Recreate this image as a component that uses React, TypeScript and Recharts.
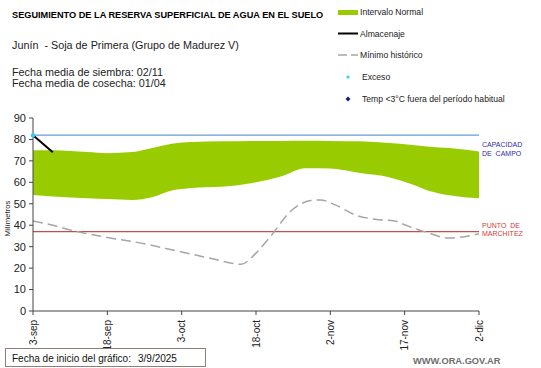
import React from "react";
import {
  ComposedChart,
  Area,
  Line,
  Scatter,
  XAxis,
  YAxis,
  ReferenceLine,
} from "recharts";

// ---- data (day index from 3-sep) ----
const tickDays = [0, 15, 30, 45, 60, 75, 90];
const tickLabels = ["3-sep", "18-sep", "3-oct", "18-oct", "2-nov", "17-nov", "2-dic"];
const yTicks = [0, 10, 20, 30, 40, 50, 60, 70, 80, 90];

const bandDays = [0, 4, 11, 15, 20, 24, 28, 32, 38, 44, 50, 55, 60, 66, 72, 76, 80, 84, 90];
const bandHigh = [75, 75, 74.1, 73.6, 74.1, 76, 78, 78.8, 79.1, 79.3, 79.3, 79.4, 79.3, 79.1, 78.3, 77.5, 76.6, 76, 74.4];
const bandLow = [54.1, 53.4, 52.6, 52.2, 51.8, 53.1, 56.2, 57.4, 57.9, 59.6, 62.7, 66.6, 66.4, 64.3, 62.3, 59.5, 56, 54, 52.6];

const minDays = [0, 4, 8, 15, 21, 30, 36, 42, 45, 48, 52, 56, 58, 61, 65, 69, 73, 75, 79, 84, 90];
const minVals = [42, 40, 37.5, 34.3, 32, 27.5, 24.5, 21.8, 27, 35, 46.5, 51.5, 51.8, 49.5, 44.8, 42.8, 42, 40.2, 37, 34, 36];

const almDays = [0, 1, 2, 3, 4];
const almVals = [82, 80, 78, 76, 74];

const excesoDays = [0];
const excesoVals = [82];

const capacidadCampo = 82;
const puntoMarchitez = 37;

const bandData = bandDays.map((d, i) => ({ d, range: [bandLow[i], bandHigh[i]] }));
const minData = minDays.map((d, i) => ({ d, v: minVals[i] }));
const almData = almDays.map((d, i) => ({ d, v: almVals[i] }));
const excData = excesoDays.map((d, i) => ({ d, v: excesoVals[i] }));

const FONT = "Arial, 'Liberation Sans', sans-serif";
const PRE: React.CSSProperties = { whiteSpace: "pre" };

const XTick = (props: any) => {
  const { x, y, payload } = props;
  const idx = tickDays.indexOf(payload.value);
  const label = idx >= 0 ? tickLabels[idx] : String(payload.value);
  return (
    <text
      x={x}
      y={y + 3}
      transform={`rotate(-90, ${x}, ${y + 3})`}
      textAnchor="end"
      dy="0.35em"
      fontSize={10}
      fontFamily={FONT}
      fill="#222"
    >
      {label}
    </text>
  );
};

const RefLabel = (lines: string[], color: string, offsets: number[]) => (props: any) => {
  const vb = props.viewBox || {};
  const x = (vb.x ?? 0) + (vb.width ?? 0) + 3;
  const y = vb.y ?? 0;
  return (
    <g>
      {lines.map((t, i) => (
        <text key={i} x={x} y={y + offsets[i]} fontSize={7} fontFamily={FONT} fill={color} style={PRE}>
          {t}
        </text>
      ))}
    </g>
  );
};

const YLabel = (props: any) => {
  const vb = props.viewBox || {};
  const x = (vb.x ?? 0) + 9.5;
  const y = (vb.y ?? 0) + (vb.height ?? 0) / 2 + 4;
  return (
    <text
      x={x}
      y={y}
      transform={`rotate(-90, ${x}, ${y})`}
      textAnchor="middle"
      fontSize={7.8}
      fontFamily={FONT}
      fill="#222"
    >
      Milímetros
    </text>
  );
};

export default function App() {
  return (
    <div style={{ position: "absolute", left: 0, top: 0, width: 541, height: 368, background: "#fff" }}>
      <ComposedChart
        width={541}
        height={368}
        margin={{ top: 118, right: 62, bottom: 0, left: 0 }}
      >
        <XAxis
          dataKey="d"
          type="number"
          domain={[0, 90]}
          ticks={tickDays}
          interval={0}
          height={57}
          tick={<XTick />}
          tickSize={4}
          stroke="#444"
          allowDuplicatedCategory={false}
        />
        <YAxis
          type="number"
          domain={[0, 90]}
          ticks={yTicks}
          interval={0}
          width={33}
          tickSize={4}
          tickMargin={3}
          stroke="#444"
          tick={{ fontSize: 11, fontFamily: FONT, fill: "#222" }}
          label={<YLabel />}
        />
        <Area
          data={bandData}
          dataKey="range"
          type="monotone"
          stroke="none"
          fill="#99cc00"
          fillOpacity={1}
          isAnimationActive={false}
          activeDot={false}
        />
        <ReferenceLine
          y={capacidadCampo}
          stroke="#6b9bd6"
          strokeWidth={1.2}
          label={RefLabel(["CAPACIDAD", "DE  CAMPO"], "#2b2ba8", [12, 20.5])}
        />
        <ReferenceLine
          y={puntoMarchitez}
          stroke="#c0504d"
          strokeWidth={1.2}
          label={RefLabel(["PUNTO  DE", "MARCHITEZ"], "#d23a3a", [-4, 4.5])}
        />
        <Line
          data={minData}
          dataKey="v"
          type="monotone"
          stroke="#a6a6a6"
          strokeWidth={1.5}
          strokeDasharray="10 5"
          dot={false}
          activeDot={false}
          isAnimationActive={false}
        />
        <Line
          data={almData}
          dataKey="v"
          type="linear"
          stroke="#000"
          strokeWidth={2}
          dot={false}
          activeDot={false}
          isAnimationActive={false}
        />
        <Scatter
          data={excData}
          dataKey="v"
          fill="#33ccff"
          shape={(p: any) => <circle cx={p.cx} cy={p.cy} r={2.2} fill="#33ccff" />}
          isAnimationActive={false}
        />
      </ComposedChart>
      <svg
        width={541}
        height={368}
        style={{ position: "absolute", left: 0, top: 0, pointerEvents: "none" }}
      >
        <text x={12} y={18.3} fontSize={9.2} fontWeight="bold" fontFamily={FONT} fill="#000">
          SEGUIMIENTO DE LA RESERVA SUPERFICIAL DE AGUA EN EL SUELO
        </text>
        <text x={12} y={49} fontSize={10.8} fontFamily={FONT} fill="#222" style={PRE}>
          {"Junín  - Soja de Primera (Grupo de Madurez V)"}
        </text>
        <text x={12} y={75.5} fontSize={10.8} fontFamily={FONT} fill="#222">
          Fecha media de siembra: 02/11
        </text>
        <text x={12} y={86.5} fontSize={10.8} fontFamily={FONT} fill="#222">
          Fecha media de cosecha: 01/04
        </text>

        {/* legend */}
        <rect x={338} y={10} width={20} height={5} fill="#99cc00" />
        <text x={360} y={15.3} fontSize={8.6} fontFamily={FONT} fill="#222">Intervalo Normal</text>
        <line x1={338} y1={33.5} x2={358} y2={33.5} stroke="#000" strokeWidth={2} />
        <text x={360} y={37} fontSize={8.6} fontFamily={FONT} fill="#222">Almacenaje</text>
        <line x1={338} y1={55} x2={358} y2={55} stroke="#a6a6a6" strokeWidth={1.3} strokeDasharray="9 4" />
        <text x={360} y={58} fontSize={8.6} fontFamily={FONT} fill="#222">Mínimo histórico</text>
        <circle cx={348} cy={77} r={1.6} fill="#33ccff" />
        <text x={362} y={80} fontSize={8.6} fontFamily={FONT} fill="#222">Exceso</text>
        <path d="M348 96.5 L350.5 99 L348 101.5 L345.5 99 Z" fill="#1a1a8c" />
        <text x={362} y={102} fontSize={8.6} fontFamily={FONT} fill="#222">Temp &lt;3°C fuera del período habitual</text>

        {/* bottom box */}
        <rect x={5.5} y={348.5} width={200} height={18} fill="#fff" stroke="#8c7f7a" strokeWidth={1} />
        <text x={12} y={361.5} fontSize={10} fontFamily={FONT} fill="#111">Fecha de inicio del gráfico:</text>
        <text x={138} y={361.5} fontSize={10} fontFamily={FONT} fill="#111">3/9/2025</text>
        <text x={413} y={363.5} fontSize={9.3} fontWeight="bold" fontFamily={FONT} fill="#6e6e6e">WWW.ORA.GOV.AR</text>
      </svg>
    </div>
  );
}
